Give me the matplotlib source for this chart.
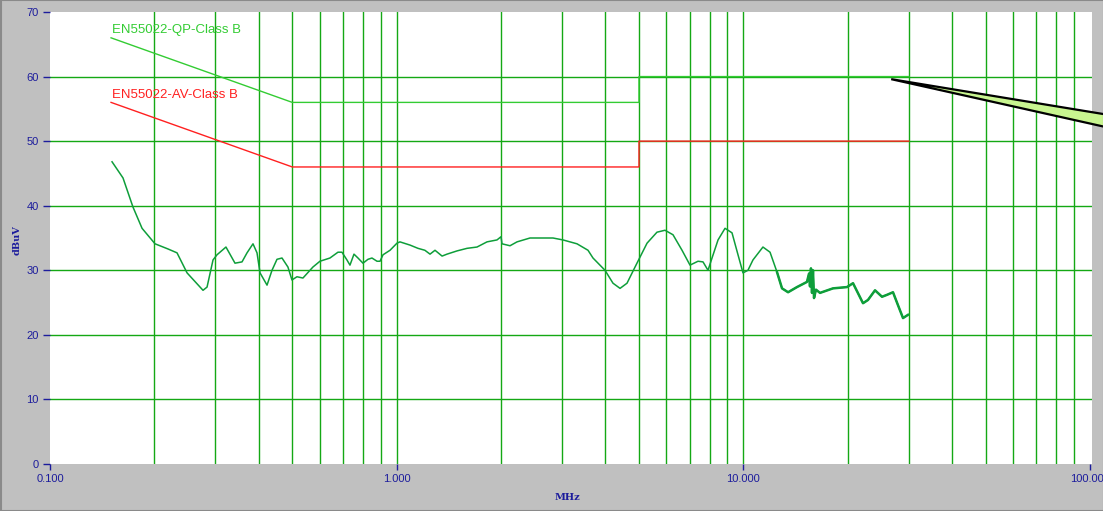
import matplotlib
matplotlib.use("Agg")
import matplotlib.pyplot as plt
from matplotlib.patches import Polygon, Rectangle
from matplotlib.ticker import FixedLocator, NullFormatter
import numpy as np

# Measured conducted emission trace (frequency in MHz, level in dBuV)
freq_mhz = [0.151, 0.1624, 0.1735, 0.1843, 0.2009, 0.2190, 0.2325, 0.2485, 0.2763, 0.2838,
            0.2953, 0.3032, 0.3218, 0.3417, 0.3580, 0.3701, 0.3851, 0.3955, 0.4035, 0.4227,
            0.4369, 0.4516, 0.4669, 0.4857, 0.4988, 0.5157, 0.5366, 0.5733, 0.6007, 0.6420,
            0.6771, 0.6953, 0.7187, 0.7333, 0.7531, 0.7734, 0.7995, 0.8265, 0.8487, 0.8776,
            0.8953, 0.9133, 0.9568, 1.002, 1.022, 1.093, 1.152, 1.206, 1.248, 1.290,
            1.352, 1.397, 1.493, 1.596, 1.705, 1.822, 1.947, 2.000, 2.013, 2.123,
            2.224, 2.424, 2.643, 2.824, 3.018, 3.313, 3.564, 3.684, 3.990, 4.207,
            4.409, 4.618, 4.870, 5.275, 5.635, 5.943, 6.268, 6.655, 7.017, 7.400,
            7.650, 7.909, 8.122, 8.453, 8.855, 9.275, 9.652, 9.977, 10.31, 10.66,
            11.39, 11.94, 12.51, 12.93, 13.46, 14.28, 15.26, 15.47, 15.57, 15.67,
            15.78, 15.88, 15.99, 16.20, 16.64, 18.14, 19.91, 20.72, 22.14, 22.88,
            23.98, 25.12, 25.97, 27.02, 27.93, 28.88, 29.85]
level_dbuv = [46.8, 44.3, 39.8, 36.5, 34.1, 33.3, 32.7, 29.6, 26.9, 27.4,
              31.6, 32.4, 33.6, 31.1, 31.3, 32.7, 34.1, 32.7, 29.6, 27.7,
              30.0, 31.7, 31.9, 30.5, 28.5, 29.0, 28.8, 30.5, 31.4, 31.9,
              32.8, 32.8, 31.6, 30.8, 32.5, 31.9, 31.1, 31.7, 31.9, 31.4,
              31.4, 32.4, 33.1, 34.2, 34.4, 33.9, 33.4, 33.1, 32.5, 33.1,
              32.2, 32.5, 33.0, 33.4, 33.6, 34.4, 34.7, 35.2, 34.1, 33.8,
              34.4, 35.0, 35.0, 35.0, 34.7, 34.1, 33.1, 31.9, 30.0, 28.0,
              27.2, 28.0, 30.5, 34.2, 35.9, 36.2, 35.5, 33.1, 30.8, 31.4,
              31.3, 30.0, 31.9, 34.7, 36.5, 35.8, 32.4, 29.6, 30.0, 31.6,
              33.6, 32.8, 29.7, 27.2, 26.6, 27.4, 28.2, 29.5, 27.5, 30.3,
              26.5, 30.0, 25.7, 27.0, 26.5, 27.2, 27.4, 28.0, 24.9, 25.4,
              26.9, 25.9, 26.2, 26.6, 24.6, 22.6, 23.1]

# EN55022 Class B limit lines
qp_freq = [0.15, 0.5, 5.0, 5.0, 30.0]
qp_limit = [66, 56, 56, 60, 60]
av_freq = [0.15, 0.5, 5.0, 5.0, 30.0]
av_limit = [56, 46, 46, 50, 50]

x_ticks = [0.1, 1.0, 10.0, 100.0]
x_tick_labels = ["0.100", "1.000", "10.000", "100.000"]
y_ticks = [0, 10, 20, 30, 40, 50, 60, 70]

W, H = 1103, 511
fig = plt.figure(figsize=(W / 100, H / 100), dpi=100)
fig.patch.set_facecolor("#c0c0c0")
fig.add_artist(Rectangle((0.5 / W, 0), 1, 1 - 0.5 / H, transform=fig.transFigure,
                         fill=False, edgecolor="#8a8a8a", lw=1.5))

ax = fig.add_axes([50 / W, 47 / H, 1042 / W, 452 / H])
ax.set_facecolor("white")
ax.set_xscale("log")
ax.set_xlim(0.1, 10 ** (-1 + 1042 / 346.67))
ax.set_ylim(0, 70)
for s in ax.spines.values():
    s.set_visible(False)

grid_col = "#14a814"
minor_grid = [m * d for d in (0.1, 1.0, 10.0) for m in range(2, 10)] + [1.0, 10.0]
for gx in minor_grid:
    ax.axvline(gx, color=grid_col, lw=1.0, zorder=1)
for gy in range(10, 70, 10):
    ax.axhline(gy, color=grid_col, lw=1.0, zorder=1)

navy = "#1c1c9c"
ax.xaxis.set_major_locator(FixedLocator(x_ticks))
ax.xaxis.set_minor_locator(FixedLocator([]))
ax.xaxis.set_minor_formatter(NullFormatter())
ax.set_xticks(x_ticks)
ax.set_xticklabels(x_tick_labels)
ax.set_yticks(y_ticks)
ax.set_yticklabels([str(v) for v in y_ticks])
ax.tick_params(axis="x", colors=navy, labelsize=8, length=4, width=1, pad=3)
ax.tick_params(axis="y", colors=navy, labelsize=8, length=5, width=1, pad=3)
for lab in ax.get_xticklabels() + ax.get_yticklabels():
    lab.set_fontfamily("Liberation Sans")

# Limit lines and their captions
ax.plot(qp_freq, qp_limit, color="#33cc33", lw=1.0, zorder=3)
ax.plot(av_freq, av_limit, color="#ff2020", lw=1.0, zorder=3)
ax.text(0.151, 67.2, "EN55022-QP-Class B", color="#33cc33", fontsize=9.5,
        family="Liberation Sans", va="center", ha="left")
ax.text(0.151, 57.1, "EN55022-AV-Class B", color="#ff2020", fontsize=9.5,
        family="Liberation Sans", va="center", ha="left")

# Measurement trace
trace_col = "#0e9e3a"
ax.plot(freq_mhz, level_dbuv, color=trace_col, lw=1.1, zorder=4)
f_arr = np.array(freq_mhz)
l_arr = np.array(level_dbuv)
sel = f_arr >= 12.5
ax.plot(f_arr[sel], l_arr[sel], color=trace_col, lw=1.8, zorder=4)

# Marker wedge pointing at the limit line
wedge = Polygon([(26.7, 59.6), (115.0, 54.0), (115.0, 52.0)], closed=True,
                facecolor="#c8f590", edgecolor="black", lw=1.6, clip_on=False, zorder=6)
ax.add_patch(wedge)

fig.text(567 / W, 1 - 497 / H, "MHz", color=navy, fontsize=7, family="DejaVu Serif",
         fontweight="bold", ha="center", va="center")
fig.text(17 / W, 1 - 240 / H, "dBuV", color=navy, fontsize=7, family="DejaVu Serif",
         fontweight="bold", rotation=90, ha="center", va="center")

fig.savefig("out.png", dpi=100, facecolor=fig.get_facecolor())
